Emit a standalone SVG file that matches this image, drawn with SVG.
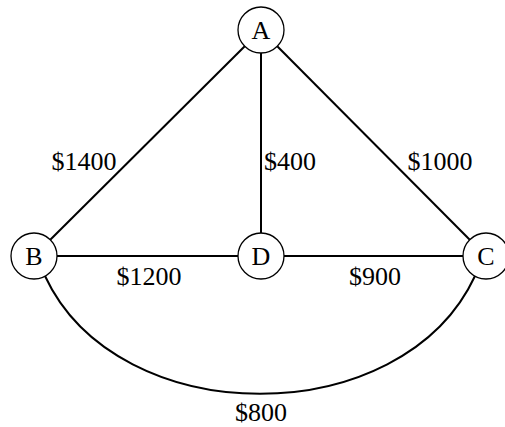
<svg xmlns="http://www.w3.org/2000/svg" width="505" height="427" viewBox="0 0 505 427">
<style>
.node circle{fill:#fff;stroke:#000;stroke-width:1.3}
.node text{font-family:"Liberation Serif","DejaVu Serif",serif;font-size:26px;text-anchor:middle;fill:#000}
.edges line,.edges path{stroke:#000;stroke-width:2;fill:none}
.lbl{font-family:"Liberation Serif","DejaVu Serif",serif;font-size:26px;fill:#000;text-anchor:middle}
</style>
<rect width="505" height="427" fill="#fff"/>
<g id="connectors" class="edges">
<line x1="245" y1="46" x2="50" y2="240"/>
<line x1="261" y1="53" x2="261" y2="233"/>
<line x1="277" y1="46" x2="470" y2="240"/>
<line x1="57" y1="256" x2="238" y2="256"/>
<line x1="284" y1="256" x2="463" y2="256"/>
<path d="M45 276 C118 433 402 433 475 276"/>
</g>
<g id="edge-labels">
<text class="lbl" x="84" y="170">$1400</text>
<text class="lbl" x="290" y="170">$400</text>
<text class="lbl" x="440" y="170">$1000</text>
<text class="lbl" x="149" y="285">$1200</text>
<text class="lbl" x="375" y="285">$900</text>
<text class="lbl" x="261" y="421">$800</text>
</g>
<g id="A" class="node"><circle cx="261" cy="30" r="23"/><text x="261" y="39">A</text></g>
<g id="B" class="node"><circle cx="34" cy="256" r="23"/><text x="34" y="265">B</text></g>
<g id="D" class="node"><circle cx="261" cy="256" r="23"/><text x="261" y="265">D</text></g>
<g id="C" class="node"><circle cx="486" cy="256" r="23"/><text x="486" y="265">C</text></g>
</svg>
